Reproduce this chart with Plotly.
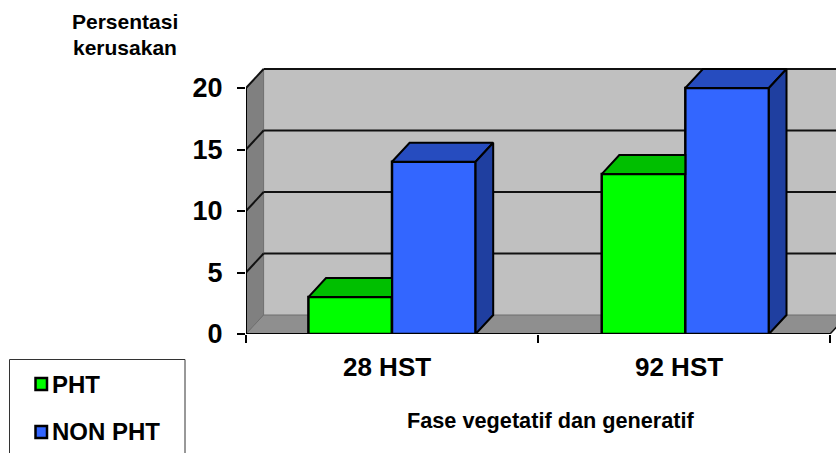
import plotly.graph_objects as go

categories = ["28 HST", "92 HST"]
pht = [3, 13]
non_pht = [14, 20]
y_ticks = [0, 5, 10, 15, 20]
series_names = ["PHT", "NON PHT"]
y_title_lines = ["Persentasi", "kerusakan"]
x_title = "Fase vegetatif dan generatif"

W, H = 836, 453
L, R, T, B = 246, 0, 40, 119   # margins
PX_CAT = 292.0                 # pixels per category
PX_UNIT = 12.3                 # pixels per value unit
xmax = (W - L - R) / PX_CAT
ymax = (H - T - B) / PX_UNIT
DX = 17.6 / PX_CAT             # depth offsets in data units
DY = 19 / PX_UNIT
BW = 83.6 / PX_CAT
YTOP = max(y_ticks)
FONT = "Liberation Sans, Arial, sans-serif"
GREEN, GREEN_TOP = "#00FF00", "#00BF00"
BLUE, BLUE_TOP, BLUE_SIDE = "#3366FF", "#264CBF", "#1F3FA0"
LINE = "#000000"
GRID = "#111111"


def px(x):
    return (x - L) / (W - L - R)


def py(y):
    return 1 - (y - T) / (H - T - B)


fig = go.Figure()
shapes = []


def poly(pts, fill, w=0):
    path = "M " + " L ".join(f"{x},{y}" for x, y in pts) + " Z"
    shapes.append(dict(type="path", path=path, xref="x", yref="y", fillcolor=fill,
                       line=dict(color="#6e6e6e", width=w), layer="below"))


# walls and floor
poly([(DX, DY), (xmax + 1, DY), (xmax + 1, YTOP + DY), (DX, YTOP + DY)], "#C0C0C0")
poly([(0, 0), (DX, DY), (DX, YTOP + DY), (0, YTOP)], "#808080", 1)
poly([(0, 0), (DX, DY), (2 + DX, DY), (2, 0)], "#8F8F8F", 1)

# gridlines on the walls
for v in y_ticks[1:]:
    shapes.append(dict(type="line", xref="x", yref="y", x0=0, y0=v, x1=DX, y1=v + DY,
                       line=dict(color=GRID, width=2), layer="below"))
    shapes.append(dict(type="line", xref="x", yref="y", x0=DX, y0=v + DY, x1=xmax, y1=v + DY,
                       line=dict(color=GRID, width=2), layer="below"))
# small corner at the right end of the floor
shapes.append(dict(type="line", xref="x", yref="y", x0=2, y0=0, x1=2 + DX, y1=DY,
                   line=dict(color=GRID, width=1.5), layer="below"))

centers = [0.5, 1.5045]
label_pos = [0.483, 1.483]

# bars: front faces
fig.add_bar(x=centers, y=pht, width=BW, offset=-BW, name=series_names[0],
            marker=dict(color=GREEN, line=dict(color=LINE, width=2.5)))
fig.add_bar(x=centers, y=non_pht, width=BW, offset=0, name=series_names[1],
            marker=dict(color=BLUE, line=dict(color=LINE, width=2.5)))


# bars: depth faces
def face(xs, ys, fill):
    fig.add_scatter(x=xs, y=ys, mode="lines", fill="toself", fillcolor=fill,
                    line=dict(color=LINE, width=2), showlegend=False, hoverinfo="skip")


for c, g, b in zip(centers, pht, non_pht):
    face([c - BW, c - BW + DX, c, c, c - BW], [g, g + DY, g + DY, g, g], GREEN_TOP)
    face([c, c + DX, c + BW + DX, c + BW, c], [b, b + DY, b + DY, b, b], BLUE_TOP)
    face([c + BW, c + BW + DX, c + BW + DX, c + BW, c + BW],
         [b, b + DY, DY, 0, b], BLUE_SIDE)

# axis lines
fig.add_scatter(x=[0, 0], y=[0, YTOP], mode="lines", line=dict(color=LINE, width=2),
                showlegend=False, hoverinfo="skip", cliponaxis=False)
fig.add_scatter(x=[0, 2], y=[0, 0], mode="lines", line=dict(color=LINE, width=2),
                showlegend=False, hoverinfo="skip", cliponaxis=False)


def label(text, x, y, size, anchor="center"):
    return dict(text=f"<b>{text}</b>", x=px(x), y=py(y), xref="paper", yref="paper",
                xanchor=anchor, yanchor="middle", showarrow=False,
                font=dict(family=FONT, size=size, color="black"))


annotations = [
    label(y_title_lines[0], 125, 22, 21),
    label(y_title_lines[1], 125, 47, 21),
    label(x_title, 551, 420, 21.7),
    label(series_names[0], 50, 384, 24, "left"),
    label(series_names[1], 50, 431, 24, "left"),
]

# legend box and swatches
shapes.append(dict(type="rect", xref="paper", yref="paper", x0=px(9.5), x1=px(185),
                   y0=py(470), y1=py(359.5),
                   line=dict(color="#333333", width=1), fillcolor="white", layer="above"))
for yc, col in zip([384, 432], [GREEN, BLUE]):
    shapes.append(dict(type="rect", xref="paper", yref="paper", x0=px(35.5), x1=px(47),
                       y0=py(yc + 6), y1=py(yc - 6),
                       line=dict(color=LINE, width=2.5), fillcolor=col, layer="above"))

fig.update_layout(
    width=W, height=H, margin=dict(l=L, r=R, t=T, b=B, pad=0),
    paper_bgcolor="white", plot_bgcolor="white", showlegend=False, barmode="overlay",
    shapes=shapes, annotations=annotations,
    xaxis=dict(range=[0, xmax], showgrid=False, zeroline=False, showline=False,
               tickmode="array", tickvals=label_pos,
               ticktext=[f"<b>{c}</b>" for c in categories], ticks="",
               tickfont=dict(family=FONT, size=26, color="black"), ticklabelstandoff=15,
               minor=dict(tickmode="array", tickvals=[0, 1, 2], ticks="outside", ticklen=8,
                          tickcolor=LINE, tickwidth=1.5, showgrid=False)),
    yaxis=dict(range=[0, ymax], showgrid=False, zeroline=False, showline=False,
               tickmode="array", tickvals=y_ticks,
               ticktext=[f"<b>{v}</b>" for v in y_ticks], ticks="outside", ticklen=8,
               tickcolor=LINE, tickwidth=1.5, ticklabelstandoff=9,
               tickfont=dict(family=FONT, size=27, color="black")),
)
fig.write_html("out.html", config={"displayModeBar": False},
               post_script="document.body.style.margin='0';")
